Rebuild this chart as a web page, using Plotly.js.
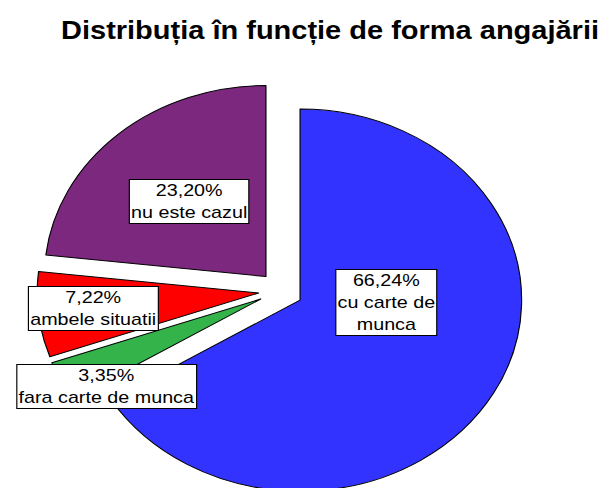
<!DOCTYPE html>
<html><head><meta charset="utf-8">
<script src="https://cdn.plot.ly/plotly-3.0.1.min.js"></script>
<style>
html,body{margin:0;padding:0;background:#fff;overflow:hidden;}
#wrap{width:602px;height:488px;overflow:hidden;position:relative;}
#chart{width:519px;height:520px;transform:scaleX(1.16);transform-origin:0 0;}
</style></head><body>
<div id="wrap"><div id="chart"></div></div>
<script>
// Data
const categories = ['cu carte de munca', 'fara carte de munca', 'ambele situatii', 'nu este cazul'];
const boxLabels = ['cu carte de<br>munca', 'fara carte de munca', 'ambele situatii', 'nu este cazul'];
const percents = [66.24, 3.35, 7.22, 23.20];

// Styles
const sliceColors = ['#3333ff', '#33b34a', '#ff0000', '#7c287e'];
const W = 519, H = 520;
// label box centres (unstretched px)
const labelPos = [[333, 302], [92.3, 386.3], [80.4, 308.3], [162.9, 201.3]];

const fmt = v => v.toFixed(2).replace('.', ',') + '%';

const trace = {
  type: 'pie',
  labels: categories,
  values: percents,
  sort: false,
  direction: 'clockwise',
  rotation: 0,
  pull: [0.1, 0.1, 0.1, 0.1],
  marker: {colors: sliceColors, line: {color: '#000', width: 1}},
  textinfo: 'none',
  hoverinfo: 'none',
  showlegend: false,
  domain: {x: [31.9 / W, 452.1 / W], y: [1 - 500.9 / H, 1 - 80.7 / H]}
};

const annotations = categories.map((c, i) => ({
  xref: 'paper', yref: 'paper',
  x: labelPos[i][0] / W, y: 1 - labelPos[i][1] / H,
  xanchor: 'center', yanchor: 'middle',
  text: fmt(percents[i]) + '<br>' + boxLabels[i],
  showarrow: false,
  bgcolor: '#ffffff', bordercolor: '#000000', borderwidth: 1, borderpad: 1,
  font: {family: 'Liberation Sans, Arial, sans-serif', size: 17, color: '#000'}
}));

const layout = {
  width: W, height: H,
  margin: {l: 0, r: 0, t: 0, b: 0},
  paper_bgcolor: '#fff',
  title: {
    text: '<b>Distribuția în funcție de forma angajării</b>',
    font: {family: 'Liberation Sans, Arial, sans-serif', size: 25, color: '#000'},
    x: 284.5 / W, xref: 'paper', xanchor: 'center',
    y: 1 - 30 / H, yref: 'container', yanchor: 'middle'
  },
  annotations: annotations
};

Plotly.newPlot('chart', [trace], layout, {staticPlot: true, displayModeBar: false});
</script>
</body></html>
